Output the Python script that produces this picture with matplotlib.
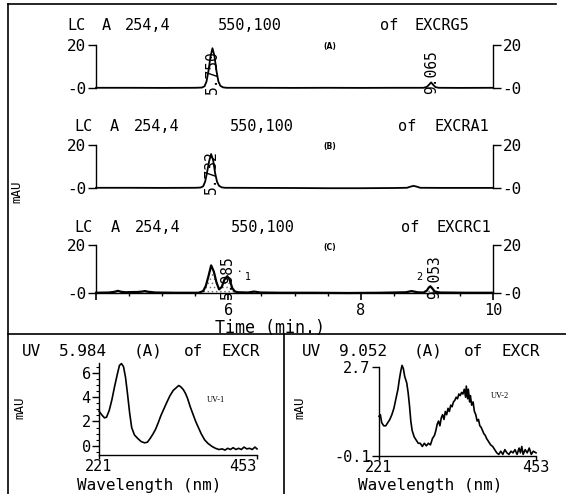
import matplotlib
matplotlib.use('Agg')
import matplotlib.pyplot as plt
from matplotlib.lines import Line2D
from matplotlib.ticker import MultipleLocator
import matplotlib.transforms as mtransforms

# ---------------- data ----------------
time_A = [4.0, 4.5, 5.0, 5.5, 5.60, 5.64, 5.67, 5.70, 5.73, 5.76, 5.79, 5.82, 5.85, 5.88, 5.92, 5.97,
          6.5, 7.0, 7.5, 8.0, 8.5, 8.95, 9.0, 9.035, 9.065, 9.095, 9.13, 9.18, 9.5, 10.0]
sig_A = [0.1, 0.1, 0.05, 0.1, 0.2, 0.8, 3.0, 8.0, 14.5, 18.5, 15.0, 8.0, 3.0, 1.0, 0.3, 0.1,
         0.1, 0.05, 0.1, 0.05, 0.1, 0.1, 0.5, 1.6, 2.6, 1.5, 0.4, 0.1, 0.05, 0.1]

time_B = [4.0, 4.5, 5.0, 5.5, 5.58, 5.62, 5.65, 5.68, 5.71, 5.74, 5.77, 5.80, 5.83, 5.86, 5.90, 5.95,
          6.5, 7.0, 7.5, 8.0, 8.5, 8.70, 8.75, 8.80, 8.85, 8.90, 9.2, 9.6, 10.0]
sig_B = [0.1, 0.1, 0.05, 0.1, 0.2, 0.8, 3.0, 7.5, 12.5, 15.8, 13.0, 7.0, 2.8, 1.0, 0.3, 0.1,
         0.05, 0.0, -0.1, -0.1, 0.0, 0.1, 0.6, 1.0, 0.6, 0.1, 0.05, 0.05, 0.05]

time_C = [4.0, 4.2, 4.28, 4.33, 4.38, 4.45, 4.55, 4.62, 4.70, 4.74, 4.79, 4.9, 5.2, 5.55, 5.62, 5.66,
          5.70, 5.74, 5.78, 5.82, 5.86, 5.90, 5.94, 5.985, 6.02, 6.06, 6.10, 6.15, 6.30, 6.39, 6.48,
          6.8, 7.3, 7.8, 8.3, 8.68, 8.77, 8.86, 8.95, 9.0, 9.03, 9.053, 9.08, 9.12, 9.2, 9.6, 10.0]
sig_C = [0.1, 0.2, 0.5, 0.9, 0.5, 0.3, 0.4, 0.4, 0.6, 0.8, 0.5, 0.2, 0.1, 0.1, 0.8, 3.0,
         7.0, 11.5, 9.0, 4.5, 1.5, 2.5, 5.5, 7.0, 5.5, 2.0, 0.6, 0.3, 0.2, 0.6, 0.2,
         0.1, 0.1, 0.0, 0.1, 0.3, 0.8, 0.3, 0.2, 1.0, 2.3, 2.8, 2.0, 0.6, 0.2, 0.1, 0.1]

labels_A = [(5.76, '5.750'), (9.065, '9.065')]
labels_B = [(5.74, '5.732')]
labels_C = [(5.985, '5.985'), (9.053, '9.053')]

titles = ['EXCRG5', 'EXCRA1', 'EXCRC1']
panel_tags = ['(A)', '(B)', '(C)']

wl_1 = [221, 225, 229, 232, 236, 240, 244, 248, 251, 254, 257, 260, 263, 266, 269, 273, 278, 283, 288,
        292, 296, 300, 304, 308, 312, 316, 320, 325, 330, 335, 338, 341, 345, 348, 351, 355, 359, 363,
        367, 371, 376, 381, 387, 392, 397, 402, 406, 410, 414, 418, 422, 426, 430, 434, 438, 442, 446,
        450, 453]
abs_1 = [2.85, 2.55, 2.3, 2.35, 2.9, 3.8, 4.9, 5.9, 6.6, 6.75, 6.5, 5.6, 4.2, 2.7, 1.5, 0.9, 0.6, 0.35,
         0.25, 0.3, 0.6, 0.95, 1.35, 1.9, 2.5, 3.0, 3.5, 4.1, 4.55, 4.8, 4.95, 4.85, 4.6, 4.3, 3.9, 3.2,
         2.6, 2.0, 1.5, 1.0, 0.5, 0.2, -0.05, -0.2, -0.3, -0.25, -0.35, -0.2, -0.3, -0.15, -0.3, -0.2,
         -0.3, -0.1, -0.25, -0.2, -0.3, -0.1, -0.25]

wl_2 = [221, 223, 225, 228, 231, 234, 237, 240, 243, 246, 249, 251, 253, 255, 257, 259, 262, 264, 266,
        268, 270, 273, 276, 279, 282, 285, 288, 291, 294, 297, 300, 303, 305, 307, 309, 311, 313, 315,
        317, 319, 321, 323, 325, 327, 329, 331, 333, 335, 337, 339, 341, 343, 345, 347, 349, 350, 352,
        353, 355, 356, 358, 360, 362, 364, 366, 368, 370, 372, 374, 376, 378, 380, 383, 386, 389, 392,
        395, 398, 401, 404, 407, 410, 413, 416, 419, 422, 425, 428, 430, 432, 434, 437, 440, 443, 446,
        449, 453]
abs_2 = [1.15, 1.2, 0.95, 0.85, 0.85, 0.95, 1.05, 1.2, 1.4, 1.7, 2.0, 2.3, 2.55, 2.75, 2.65, 2.4, 2.2,
         1.9, 1.5, 1.0, 0.7, 0.5, 0.4, 0.3, 0.3, 0.2, 0.3, 0.22, 0.3, 0.25, 0.45, 0.55, 0.7, 0.9, 1.0,
         0.85, 1.1, 1.2, 1.05, 1.3, 1.2, 1.4, 1.3, 1.5, 1.45, 1.6, 1.65, 1.75, 1.7, 1.85, 1.8, 1.9, 1.85,
         2.0, 1.75, 2.1, 1.7, 2.0, 1.6, 1.8, 1.5, 1.6, 1.3, 1.2, 1.0, 1.05, 0.85, 0.8, 0.7, 0.6, 0.55,
         0.45, 0.35, 0.25, 0.2, 0.1, 0.0, -0.05, 0.05, -0.05, 0.1, 0.0, -0.05, 0.05, 0.0, 0.1, -0.05,
         0.15, 0.0, 0.2, -0.05, 0.1, 0.0, 0.15, -0.05, 0.05, 0.0]

uv_times = ['5.984', '9.052']

# ---------------- layout helpers ----------------
W, H = 566, 494
MONO = 'DejaVu Sans Mono'
plt.rcParams['font.family'] = MONO
plt.rcParams['hatch.linewidth'] = 0.6
fig = plt.figure(figsize=(W / 100, H / 100), dpi=100)


def box(x0, y_top, x1, y_bot):
    return [x0 / W, 1 - y_bot / H, (x1 - x0) / W, (y_bot - y_top) / H]


def ftext(x, y, s, **kw):
    kw.setdefault('va', 'center')
    fig.text(x / W, 1 - y / H, s, **kw)


def fline(xs, ys, lw=1.2):
    fig.add_artist(Line2D([x / W for x in xs], [1 - y / H for y in ys], color='black', lw=lw))


def words(x0, pitch, y, wlist, idx, size):
    for w, i in zip(wlist, idx):
        ftext(x0 + i * pitch, y, w, ha='left', fontsize=size, fontfamily=MONO)


# frame
fline([8, 8], [4, 494])
fline([8, 556], [4, 4])
fline([8, 566], [334, 334])
fline([284, 284], [334, 494])

# ---------------- chromatograms ----------------
panels = [
    (time_A, sig_A, labels_A, 45, 88, 26, 67, 11.6),
    (time_B, sig_B, labels_B, 145, 188, 126, 74, 12.0),
    (time_C, sig_C, labels_C, 245, 293, 227, 74, 12.1),
]
for k, (t, s, labs, ytop, ybot, ytitle, tx0, tpitch) in enumerate(panels):
    ax = fig.add_axes(box(96, ytop, 493, ybot))
    ax.set_xlim(4.0, 10.0)
    ax.set_ylim(0, 20)
    ax.patch.set_visible(False)
    lw = 1.6 if k == 2 else 1.3
    ax.plot(t, s, color='black', lw=lw, clip_on=False, zorder=3)
    if k == 2:
        ax.fill_between(t, s, 0, facecolor='none', edgecolor='#777777', hatch='....',
                        linewidth=0, clip_on=False)
    ax.spines['top'].set_visible(False)
    ax.spines['left'].set_bounds(0, 20)
    ax.spines['right'].set_bounds(0, 20)
    for sp in ['left', 'right', 'bottom']:
        ax.spines[sp].set_linewidth(1.0)
    ax.set_yticks([0, 20])
    ax.set_yticklabels(['-0', '20'])
    ax.tick_params(axis='y', left=True, right=True, labelleft=True, labelright=True,
                   direction='out', length=6, width=1.0, labelsize=11.5, pad=1)
    if k == 2:
        ax.spines['bottom'].set_position(('data', 0))
        ax.set_xticks([4, 6, 8, 10])
        ax.set_xticklabels(['', '6', '8', '10'])
        ax.xaxis.set_minor_locator(MultipleLocator(0.5))
        ax.tick_params(axis='x', which='major', direction='out', length=5, width=1.2,
                       labelsize=11, pad=2)
        ax.tick_params(axis='x', which='minor', direction='out', length=2.5, width=1.0)
    else:
        ax.spines['bottom'].set_visible(False)
        ax.set_xticks([])
    for (pt, lab) in labs:
        dx = 4 if (k == 2 and pt > 9) else 0
        tr = mtransforms.offset_copy(ax.transData, fig=fig, x=dx, y=-6, units='dots')
        ax.text(pt, 0, lab, rotation=90, ha='center', va='bottom', transform=tr,
                fontsize=10.5, fontfamily=MONO, zorder=4)
    words(tx0, tpitch, ytitle, ['LC', 'A', '254,4', '550,100', 'of', titles[k]],
          [0, 3, 5, 13, 27, 30], 11)
    ftext(330, ytop + 2, panel_tags[k], ha='center', fontsize=5.5, fontweight='bold',
          fontfamily='DejaVu Sans')
    if k == 2:
        ax.text(6.16, 8.8, '\u2022', fontsize=4, ha='center', va='center', fontfamily='DejaVu Sans')
        ax.text(6.29, 6.8, '1', fontsize=7, ha='center', va='center', fontfamily='DejaVu Sans')
        ax.text(8.88, 6.8, '2', fontsize=7, ha='center', va='center', fontfamily='DejaVu Sans')

ftext(17, 192, 'mAU', rotation=90, ha='center', fontsize=9)
ftext(270, 328, 'Time (min.)', ha='center', fontsize=12)

# ---------------- spectra ----------------
specs = [
    (wl_1, abs_1, 99, 257, 363, 455, (-0.75, 6.8), [0, 2, 4, 6], ['0', '2', '4', '6'], 22, 'UV-1',
     (392, 3.75), 20, 149),
    (wl_2, abs_2, 379, 536, 367, 456, (-0.1, 2.7), [-0.1, 2.7], ['-0.1', '2.7'], 302, 'UV-2',
     (400, 1.79), 300, 430),
]
for j, (wl, ab, x0, x1, yt, yb, ylim, yt_vals, yt_labs, tx0, tag, tagpos, mx, wx) in enumerate(specs):
    ax = fig.add_axes(box(x0, yt, x1, yb))
    ax.set_xlim(221, 453)
    ax.set_ylim(*ylim)
    ax.patch.set_visible(False)
    ax.plot(wl, ab, color='black', lw=1.2, clip_on=False)
    ax.spines['top'].set_visible(False)
    ax.spines['right'].set_visible(False)
    ax.spines['left'].set_linewidth(1.0)
    ax.spines['bottom'].set_linewidth(1.0)
    ax.set_yticks(yt_vals)
    ax.set_yticklabels(yt_labs)
    if j == 0:
        ax.yaxis.set_minor_locator(MultipleLocator(0.5))
        ax.tick_params(axis='y', which='minor', direction='out', length=2.5, width=0.8)
    ax.tick_params(axis='y', which='major', direction='out', length=5, width=1.0,
                   labelsize=11, pad=1)
    ax.set_xticks([221, 453])
    ax.set_xticklabels(['221', '453'])
    ax.tick_params(axis='x', direction='out', length=3, width=1.0, labelsize=11, pad=0)
    if j == 0:
        ax.get_xticklabels()[0].set_ha('center')
        ax.get_xticklabels()[1].set_ha('right')
    ax.text(tagpos[0], tagpos[1], tag, fontsize=6, fontfamily='Liberation Serif',
            ha='center', va='center')
    words(tx0, 12.45, 351, ['UV', uv_times[j], '(A)', 'of', 'EXCR'], [0, 3, 9, 13, 16], 11.5)
    ftext(mx, 408, 'mAU', rotation=90, ha='center', fontsize=9)
    ftext(wx, 485, 'Wavelength (nm)', ha='center', fontsize=11.5)

fig.savefig('out.png', dpi=100)
